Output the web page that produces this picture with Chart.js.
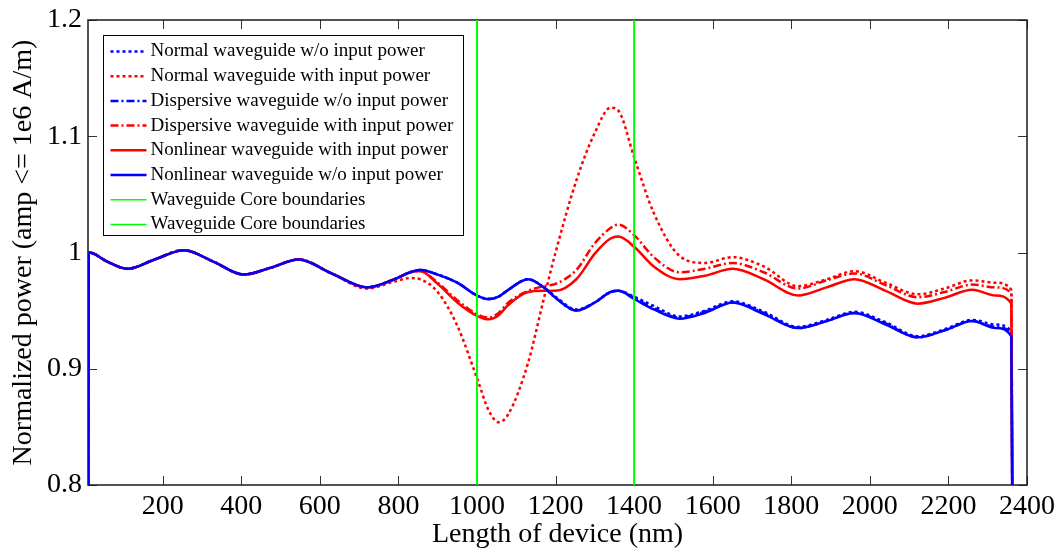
<!DOCTYPE html>
<html>
<head>
<meta charset="utf-8">
<script src="https://cdn.jsdelivr.net/npm/chart.js@4/dist/chart.umd.min.js"></script>
<style>
  html, body { margin: 0; padding: 0; background: #fff; }
</style>
</head>
<body>
<canvas id="powerChart" width="1064" height="552"></canvas>
<script>
// positions along the device (nm), shared by every curve
const xs = [11, 12, 60, 110, 180, 254, 330, 406, 476, 546, 630, 720, 790, 830, 855, 900, 950, 1000, 1030, 1055,
            1080, 1130, 1170, 1200, 1253, 1300, 1340, 1360, 1400, 1450, 1516, 1580, 1651, 1730, 1817, 1890, 1961, 2040, 2122, 2190,
            2261, 2320, 2360, 2363];

const normalNoInput = [0.75, 1.0, 0.992, 0.986, 0.994, 1.002, 0.992, 0.981, 0.987, 0.994, 0.982, 0.970, 0.977, 0.983, 0.985, 0.981, 0.974, 0.963, 0.960, 0.962,
                       0.968, 0.977, 0.970, 0.962, 0.951, 0.957, 0.966, 0.967, 0.962, 0.954, 0.945, 0.950, 0.958, 0.949, 0.936, 0.942, 0.949, 0.940, 0.928, 0.934,
                       0.942, 0.938, 0.932, 0.75];
const normalInput = [0.75, 1.0, 0.992, 0.986, 0.994, 1.002, 0.992, 0.981, 0.987, 0.994, 0.982, 0.969, 0.975, 0.978, 0.977, 0.966, 0.937, 0.892, 0.864, 0.854,
                     0.861, 0.905, 0.960, 1.000, 1.062, 1.103, 1.1245, 1.122, 1.082, 1.034, 0.997, 0.991, 0.996, 0.988, 0.971, 0.977, 0.984, 0.974, 0.964, 0.969,
                     0.976, 0.974, 0.968, 0.75];
const dispersiveNoInput = [0.75, 1.0, 0.992, 0.986, 0.994, 1.002, 0.992, 0.981, 0.987, 0.994, 0.982, 0.970, 0.977, 0.983, 0.985, 0.981, 0.974, 0.963, 0.960, 0.962,
                           0.968, 0.977, 0.970, 0.961, 0.950, 0.957, 0.966, 0.967, 0.961, 0.952, 0.944, 0.949, 0.957, 0.948, 0.935, 0.941, 0.948, 0.939, 0.927, 0.933,
                           0.941, 0.936, 0.930, 0.75];
const dispersiveInput = [0.75, 1.0, 0.992, 0.986, 0.994, 1.002, 0.992, 0.981, 0.987, 0.994, 0.982, 0.970, 0.977, 0.983, 0.984, 0.974, 0.959, 0.947, 0.944, 0.948,
                         0.957, 0.967, 0.971, 0.973, 0.985, 1.008, 1.021, 1.024, 1.015, 0.996, 0.983, 0.986, 0.991, 0.983, 0.969, 0.976, 0.982, 0.972, 0.9615, 0.966,
                         0.9724, 0.970, 0.965, 0.75];
const nonlinearInput = [0.75, 1.0, 0.992, 0.986, 0.994, 1.002, 0.992, 0.981, 0.987, 0.994, 0.982, 0.970, 0.977, 0.983, 0.984, 0.973, 0.957, 0.9455, 0.9425, 0.946,
                        0.955, 0.966, 0.967, 0.967, 0.977, 0.999, 1.012, 1.0137, 1.005, 0.988, 0.977, 0.980, 0.986, 0.977, 0.963, 0.970, 0.977, 0.967, 0.956, 0.961,
                        0.968, 0.963, 0.956, 0.75];
const nonlinearNoInput = [0.75, 1.0, 0.992, 0.986, 0.994, 1.002, 0.992, 0.981, 0.987, 0.994, 0.982, 0.970, 0.977, 0.983, 0.985, 0.981, 0.974, 0.963, 0.960, 0.962,
                          0.968, 0.977, 0.970, 0.961, 0.950, 0.957, 0.966, 0.967, 0.960, 0.951, 0.943, 0.948, 0.957, 0.947, 0.935, 0.941, 0.948, 0.938, 0.927, 0.933,
                          0.941, 0.935, 0.928, 0.75];

const coreBounds = [1000, 1400];
const xTicks = [200, 400, 600, 800, 1000, 1200, 1400, 1600, 1800, 2000, 2200, 2400];
const yTicks = [0.8, 0.9, 1, 1.1, 1.2];

const serif = "'Liberation Serif', 'Times New Roman', 'DejaVu Serif', serif";
const pts = arr => xs.map((x, i) => ({ x: x, y: arr[i] }));
const vline = x => [{ x: x, y: 0.8 }, { x: x, y: 1.2 }];

function curve(label, data, color, dash, order) {
    return {
        label: label,
        data: pts(data),
        borderColor: color,
        borderWidth: 2.5,
        borderDash: dash,
        pointRadius: 0,
        cubicInterpolationMode: 'monotone',
        fill: false,
        clip: 0,
        order: order
    };
}

const datasets = [
    curve('Normal waveguide w/o input power', normalNoInput, '#0000ff', [3, 3], 7),
    curve('Normal waveguide with input power', normalInput, '#ff0000', [3, 3], 6),
    curve('Dispersive waveguide w/o input power', dispersiveNoInput, '#0000ff', [8, 3, 2, 3], 5),
    curve('Dispersive waveguide with input power', dispersiveInput, '#ff0000', [8, 3, 2, 3], 4),
    curve('Nonlinear waveguide with input power', nonlinearInput, '#ff0000', [], 3),
    curve('Nonlinear waveguide w/o input power', nonlinearNoInput, '#0000ff', [], 2)
];
coreBounds.forEach((b, i) => {
    datasets.push({
        label: 'Waveguide Core boundaries',
        data: vline(b),
        borderColor: '#00ff00',
        borderWidth: 2,
        pointRadius: 0,
        fill: false,
        clip: 0,
        order: 1 - i
    });
});

// MATLAB style box with inward ticks, under the data
const axesBox = {
    id: 'axesBox',
    beforeDatasetsDraw(chart) {
        const { ctx, chartArea: a, scales: { x, y } } = chart;
        ctx.save();
        ctx.strokeStyle = '#333';
        ctx.lineWidth = 1;
        ctx.beginPath();
        x.ticks.forEach(t => {
            const px = Math.round(x.getPixelForValue(t.value)) + 0.5;
            ctx.moveTo(px, a.bottom); ctx.lineTo(px, a.bottom - 9);
            ctx.moveTo(px, a.top); ctx.lineTo(px, a.top + 9);
        });
        y.ticks.forEach(t => {
            const py = Math.round(y.getPixelForValue(t.value)) + 0.5;
            ctx.moveTo(a.left, py); ctx.lineTo(a.left + 9, py);
            ctx.moveTo(a.right, py); ctx.lineTo(a.right - 9, py);
        });
        ctx.stroke();
        ctx.strokeStyle = '#1a1a1a';
        ctx.lineWidth = 1.5;
        ctx.strokeRect(a.left, a.top, a.right - a.left, a.bottom - a.top);
        ctx.restore();
    }
};

// legend box in the upper left corner of the plot
const legendBox = {
    id: 'legendBox',
    afterDatasetsDraw(chart) {
        const { ctx, chartArea: a } = chart;
        const sets = chart.data.datasets;
        ctx.save();
        ctx.font = '19px ' + serif;
        let textW = 0;
        sets.forEach(ds => { textW = Math.max(textW, ctx.measureText(ds.label).width); });
        const x0 = Math.round(a.left + 15) + 0.5, y0 = Math.round(a.top + 15) + 0.5;
        const w = Math.round(7 + 36 + 4 + textW + 10), h = 200;
        ctx.fillStyle = '#fff';
        ctx.fillRect(x0, y0, w, h);
        ctx.strokeStyle = '#000';
        ctx.lineWidth = 1;
        ctx.strokeRect(x0, y0, w, h);
        sets.forEach((ds, i) => {
            const yy = y0 + 16 + i * 24.7;
            ctx.strokeStyle = ds.borderColor;
            ctx.lineWidth = ds.borderDash ? 2.5 : 1.5;
            ctx.setLineDash(ds.borderDash || []);
            ctx.beginPath();
            ctx.moveTo(x0 + 7, yy);
            ctx.lineTo(x0 + 43, yy);
            ctx.stroke();
            ctx.setLineDash([]);
            ctx.fillStyle = '#000';
            ctx.textBaseline = 'middle';
            ctx.textAlign = 'left';
            ctx.fillText(ds.label, x0 + 47, yy);
        });
        ctx.restore();
    }
};

new Chart(document.getElementById('powerChart'), {
    type: 'line',
    data: { datasets: datasets },
    options: {
        responsive: false,
        animation: false,
        layout: { padding: { top: 15, right: 37, bottom: 0, left: 0 } },
        plugins: {
            legend: { display: false },
            tooltip: { enabled: false }
        },
        scales: {
            x: {
                type: 'linear',
                min: 10,
                max: 2400,
                grid: { display: false, drawTicks: false },
                border: { display: false },
                afterBuildTicks: s => { s.ticks = xTicks.map(v => ({ value: v })); },
                afterFit: s => { s.height = 67; },
                ticks: {
                    color: '#000',
                    padding: 5,
                    maxRotation: 0,
                    font: { family: serif, size: 28 },
                    callback: v => String(v)
                },
                title: {
                    display: true,
                    text: 'Length of device (nm)',
                    color: '#000',
                    padding: { top: 0, bottom: 1 },
                    font: { family: serif, size: 28 }
                }
            },
            y: {
                min: 0.8,
                max: 1.2,
                grid: { display: false, drawTicks: false },
                border: { display: false },
                afterBuildTicks: s => { s.ticks = yTicks.map(v => ({ value: v })); },
                afterFit: s => { s.width = 88; },
                ticks: {
                    color: '#000',
                    padding: 6,
                    font: { family: serif, size: 28, lineHeight: 1 },
                    callback: v => String(v)
                },
                title: {
                    display: true,
                    text: 'Normalized power (amp <= 1e6 A/m)',
                    color: '#000',
                    padding: { top: 7, bottom: 0 },
                    font: { family: serif, size: 28 }
                }
            }
        }
    },
    plugins: [axesBox, legendBox]
});
</script>
</body>
</html>
